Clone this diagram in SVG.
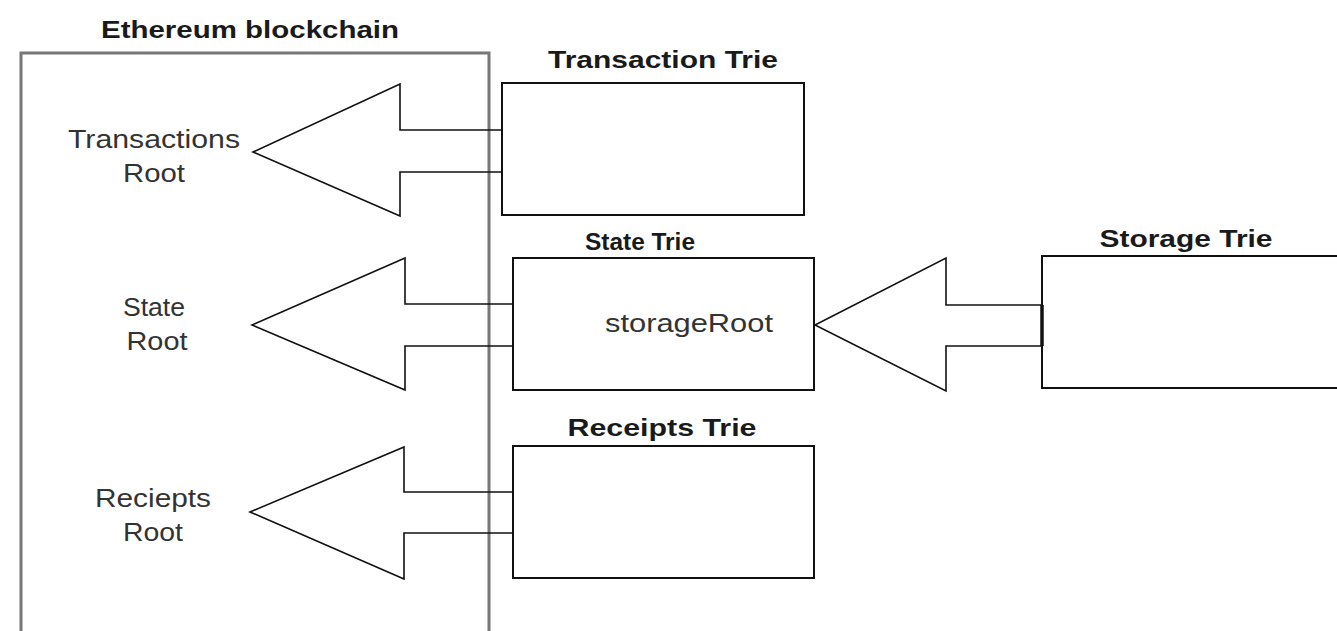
<svg xmlns="http://www.w3.org/2000/svg" width="1337" height="631" viewBox="0 0 1337 631">
<style>
  .bg { fill: #ffffff; }
  .chain { fill: none; stroke: #777777; stroke-width: 3; }
  .box { fill: #ffffff; stroke: #111111; stroke-width: 2; }
  .arrow { fill: none; stroke: #111111; stroke-width: 1.6; stroke-linejoin: miter; }
  .title { font-family: "Liberation Sans", Arial, sans-serif; font-weight: bold; font-size: 24px; fill: #1a1a1a; text-anchor: middle; }
  .label { font-family: "Liberation Sans", Arial, sans-serif; font-size: 25px; fill: #333333; text-anchor: middle; }
</style>
<rect class="bg" x="0" y="0" width="1337" height="631"/>

<g id="ethereum-blockchain">
  <path class="chain" d="M21,640 V53 H489 V640"/>
  <text class="title" x="250" y="38" textLength="298" lengthAdjust="spacingAndGlyphs">Ethereum blockchain</text>
  <text class="label" x="154" y="148" textLength="172" lengthAdjust="spacingAndGlyphs">Transactions</text>
  <text class="label" x="154" y="182" textLength="62" lengthAdjust="spacingAndGlyphs">Root</text>
  <text class="label" x="154" y="316" textLength="62" lengthAdjust="spacingAndGlyphs">State</text>
  <text class="label" x="157" y="350" textLength="61" lengthAdjust="spacingAndGlyphs">Root</text>
  <text class="label" x="153" y="507" textLength="116" lengthAdjust="spacingAndGlyphs">Reciepts</text>
  <text class="label" x="153" y="541" textLength="60" lengthAdjust="spacingAndGlyphs">Root</text>
</g>

<g id="transaction-trie">
  <rect class="box" x="502" y="83" width="302" height="132"/>
  <text class="title" x="663" y="68" textLength="230" lengthAdjust="spacingAndGlyphs">Transaction Trie</text>
</g>

<g id="state-trie">
  <rect class="box" x="513" y="258" width="301" height="132"/>
  <text class="title" x="640" y="250" textLength="110" lengthAdjust="spacingAndGlyphs">State Trie</text>
  <text class="label" x="689" y="332" textLength="168" lengthAdjust="spacingAndGlyphs">storageRoot</text>
</g>

<g id="storage-trie">
  <rect class="box" x="1042" y="256" width="310" height="132"/>
  <text class="title" x="1186" y="247" textLength="173" lengthAdjust="spacingAndGlyphs">Storage Trie</text>
</g>

<g id="receipts-trie">
  <rect class="box" x="513" y="446" width="301" height="132"/>
  <text class="title" x="662" y="436" textLength="189" lengthAdjust="spacingAndGlyphs">Receipts Trie</text>
</g>

<g id="connectors">
  <polyline class="arrow" points="502,130 400,130 400,84 253,152 400,216 400,172 502,172"/>
  <polyline class="arrow" points="513,304 405,304 405,258 252,325 405,390 405,346 513,346"/>
  <polyline class="arrow" points="1042,305 946,305 946,258 815,325 946,391 946,346 1042,346"/>
  <line x1="1042" y1="305" x2="1042" y2="346" stroke="#111111" stroke-width="3.5"/>
  <polyline class="arrow" points="513,492 404,492 404,447 250,512 404,579 404,533 513,533"/>
</g>
</svg>
